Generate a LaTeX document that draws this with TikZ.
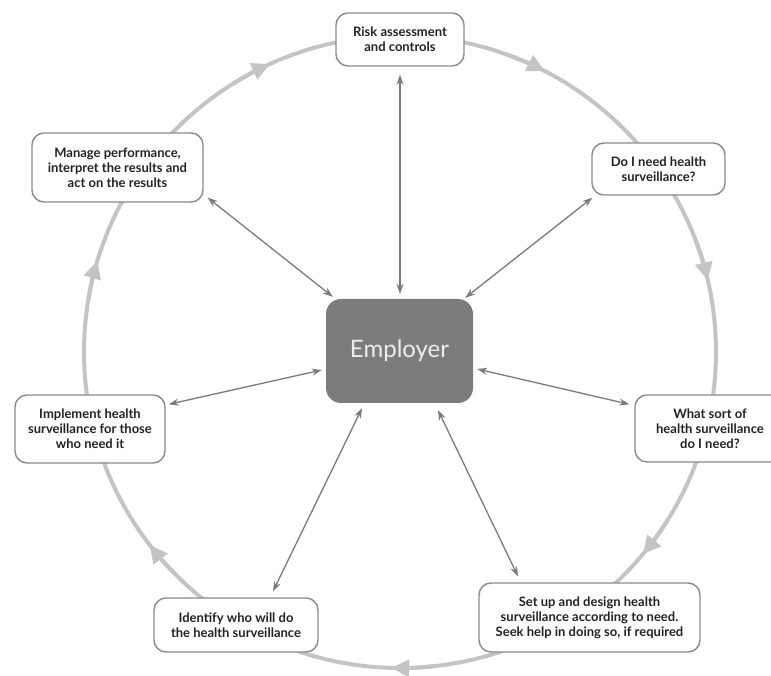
\documentclass[tikz,border=0pt]{standalone}
\usepackage{fontspec}
\setmainfont{Lato}
\usetikzlibrary{arrows.meta,calc}
\definecolor{ringc}{HTML}{C4C4C4}
\definecolor{boxc}{HTML}{8A8A8A}
\definecolor{connc}{HTML}{7A7A7A}
\definecolor{empc}{HTML}{7C7C7C}
\definecolor{txtc}{HTML}{222222}
\begin{document}
\begin{tikzpicture}[x=1pt,y=1pt,
  stepbox/.style={draw=boxc, line width=1.4pt, rounded corners=12pt, fill=white, align=center,
    font=\bfseries\fontsize{13}{15}\selectfont, inner sep=0pt, text=txtc},
  ring/.style={draw=ringc, line width=4pt},
  ringtip/.style={draw=ringc, fill=ringc, line width=4pt, -{Triangle[length=18pt,width=17pt]}},
  conn/.style={draw=connc, line width=1.3pt, {Stealth[length=10pt,width=7pt]}-{Stealth[length=10pt,width=7pt]}}]
\useasboundingbox (0,0) rectangle (771,675);
\coordinate (C) at (400,323);
\draw[ring] (C) circle[radius=316];
\foreach \a in {64.3,14.7,-38.2,-90,-140.8,164.8,115.9} {
  \draw[ringtip] ($(C)+(\a+6:316)$) arc[start angle=\a+6, end angle=\a-1.6, radius=316];
}
\node[stepbox, minimum width=128pt, minimum height=53pt] (risk) at (400,635.5) {Risk assessment\\and controls};
\node[stepbox, minimum width=133pt, minimum height=52pt] (do) at (658.5,506) {Do I need health\\surveillance?};
\node[stepbox, minimum width=150pt, minimum height=67pt] (what) at (710,246.5) {What sort of\\health surveillance\\do I need?};
\node[stepbox, minimum width=221pt, minimum height=69pt] (setup) at (589.5,57.5) {Set up and design health\\surveillance according to need.\\Seek help in doing so, if required};
\node[stepbox, minimum width=164pt, minimum height=54pt] (ident) at (236,50) {Identify who will do\\the health surveillance};
\node[stepbox, minimum width=150pt, minimum height=68pt] (impl) at (90,246) {Implement health\\surveillance for those\\who need it};
\node[stepbox, minimum width=171pt, minimum height=69pt] (man) at (117.5,507.5) {Manage performance,\\interpret the results and\\act on the results};
\node[fill=empc, rounded corners=15pt, minimum width=147pt, minimum height=104pt, inner sep=0pt,
  text=white!93!black, font=\fontsize{24}{28}\selectfont] (emp) at (399.5,324) {Employer};
\draw[conn] ($(risk.south)+(0,-8)$) -- ($(emp.north)+(0.5,5)$);
\draw[conn] ($(man.south east)+(4,5)$) -- ($(emp.north west)+(7,2)$);
\draw[conn] ($(do.south west)+(1,-2)$) -- ($(emp.north east)+(-8,1)$);
\draw[conn] ($(emp.east)+(4,-18)$) -- ($(what.north west)+(-5,-10)$);
\draw[conn] ($(emp.south)+(38.5,-7)$) -- ($(setup.north)+(-71.5,6)$);
\draw[conn] ($(emp.south)+(-37.5,-5)$) -- ($(ident.north)+(37,6)$);
\draw[conn] ($(emp.west)+(-4,-19)$) -- ($(impl.north east)+(3,-10)$);
\end{tikzpicture}
\end{document}
